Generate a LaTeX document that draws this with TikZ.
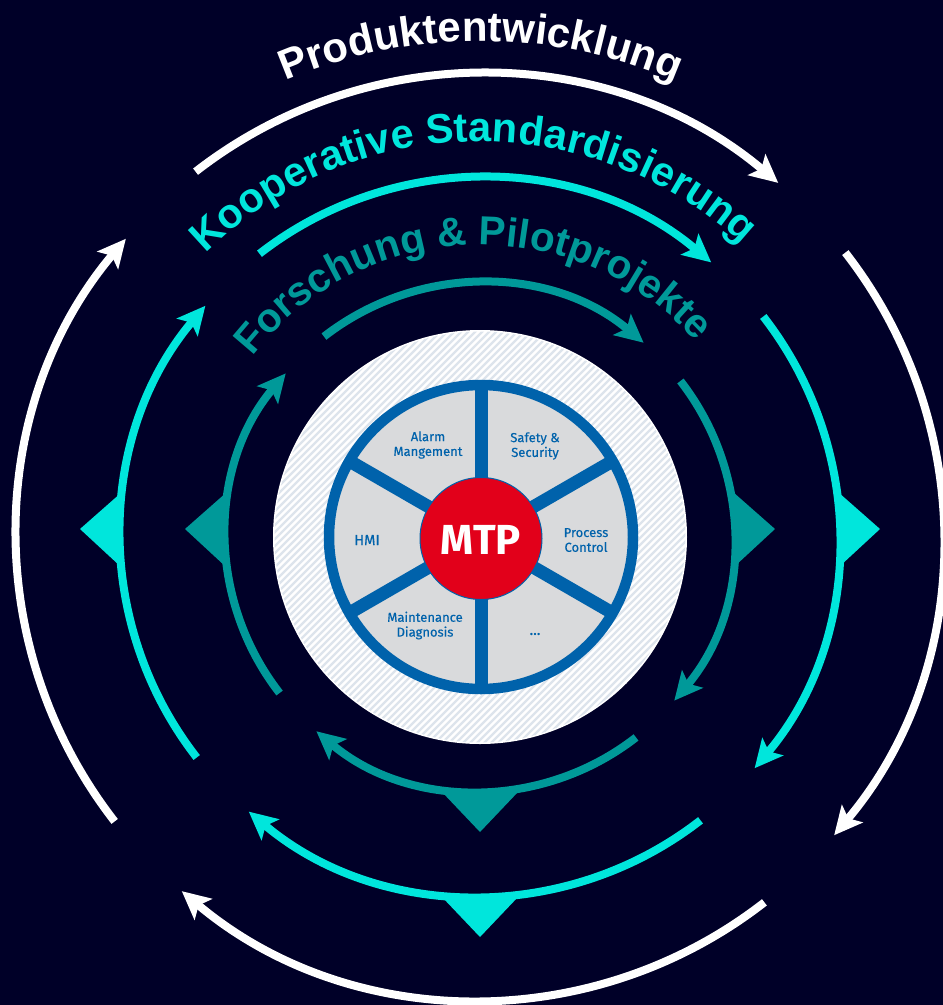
\documentclass[tikz,border=0pt]{standalone}
\usepackage{fontspec}
\setmainfont{Liberation Sans}
\newfontfamily\wheelfont{Fira Sans}
\newfontfamily\wheellabelfont[FakeBold=0.35]{Fira Sans}
\usetikzlibrary{arrows.meta,decorations.text}
\definecolor{bgnavy}{HTML}{000028}
\definecolor{cyanc}{HTML}{00E6DC}
\definecolor{tealc}{HTML}{009999}
\definecolor{wheelblue}{HTML}{0062AB}
\definecolor{sectorgrey}{HTML}{D9DADC}
\definecolor{hatchc}{HTML}{DDE4EC}
\definecolor{mtpred}{HTML}{E2001A}
\tikzset{
  x=1pt,y=1pt,
  ringarc/.style={line width=8pt,-{Stealth[length=28pt,width=27pt,inset=6pt]}},
  wlabel/.style={font=\wheellabelfont\fontsize{13}{14.8}\selectfont,text=wheelblue,align=center,inner sep=0pt},
  spoke/.style={draw=wheelblue,line width=13pt},
}
\begin{document}
\begin{tikzpicture}
\useasboundingbox (0,0) rectangle (943,-1005);
\fill[bgnavy] (0,0) rectangle (943,-1005);
\begin{scope}[shift={(480,-537)}]
  % central disc with hatching
  \fill[white] (0,0) circle[radius=207];
  \begin{scope}
    \clip (0,0) circle[radius=205.5];
    \foreach \k in {-50,...,50}{
      \draw[hatchc,line width=2.4pt] ({\k*7-300},-300) -- ({\k*7+300},300);
    }
  \end{scope}
  % wheel
  \fill[sectorgrey] (1,0) circle[radius=150];
  \draw[wheelblue,line width=10.5pt] (1,0) circle[radius=152];
  \foreach \a in {30,90,150,210,270,330}{
    \draw[spoke] (1,0) -- ++(\a:150);
  }
  \fill[mtpred,draw=wheelblue,line width=1pt] (1,-1.5) circle[radius=61];
  \node[font=\wheelfont\bfseries\fontsize{42}{42}\selectfont,text=white,inner sep=0pt] (mtp) at (1,-3) {MTP};
  % rings
  \foreach \r/\c in {463/white,359/cyanc,254/tealc}{
    \foreach \s in {127.9,37.9,-52.1,-142.1}{
      \draw[ringarc,color=\c] (\s:\r) arc[start angle=\s,delta angle=-78,radius=\r];
    }
  }
  % triangles
  \foreach \r/\c in {359/cyanc,254/tealc}{
    \fill[\c] (\r-1,45) -- (\r+41,8) -- (\r+1,-29) -- cycle;
    \fill[\c] (-\r+1,45) -- (-\r-41,8) -- (-\r-1,-29) -- cycle;
    \fill[\c] (-38,-\r-1) -- (0,-\r-41) -- (38,-\r-1) -- (0,-\r+1) -- cycle;
  }
\end{scope}
% wheel labels
\node[wlabel] (alarm) at (428,-445) {Alarm\\Mangement};
\node[wlabel] (safety) at (535,-446) {Safety \&\\Security};
\node[wlabel] (process) at (586,-540) {Process\\Control};
\node[wlabel,font=\wheellabelfont\fontsize{14.5}{16}\selectfont] (hmi) at (367,-540) {HMI};
\node[wlabel] (maint) at (425,-625.5) {Maintenance\\Diagnosis};
\node[wlabel,font=\wheellabelfont\fontsize{15}{16}\selectfont] (dots) at (535,-634) {...};
% curved titles
\path[decorate,decoration={text along path,text align={fit to path},
  text={|\fontsize{42}{42}\selectfont\bfseries\color{white}|Produktentwicklung}}]
  (480,-535) ++(113.2:494) arc[start angle=113.2,end angle=67.2,radius=494];
\path[decorate,decoration={text along path,text align={fit to path},
  text={|\fontsize{41.5}{41.5}\selectfont\bfseries\color{cyanc}|Kooperative Standardisierung}}]
  (479,-531) ++(134.6:389.5) arc[start angle=134.6,end angle=48.2,radius=389.5];
\path[decorate,decoration={text along path,text align={fit to path},
  text={|\fontsize{40.5}{40.5}\selectfont\bfseries\color{tealc}|Forschung {\&} Pilotprojekte}}]
  (480.5,-534.5) ++(142:289.5) arc[start angle=142,end angle=43,radius=289.5];
\end{tikzpicture}
\end{document}
